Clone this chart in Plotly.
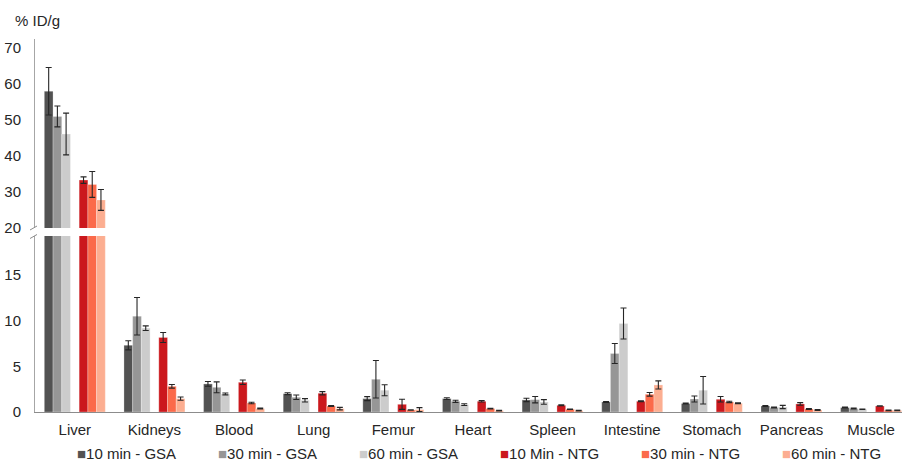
import plotly.graph_objects as go

# ---------------- data ----------------
categories = ["Liver", "Kidneys", "Blood", "Lung", "Femur", "Heart",
              "Spleen", "Intestine", "Stomach", "Pancreas", "Muscle"]

series_names = ["10 min - GSA", "30 min - GSA", "60 min - GSA",
                "10 Min - NTG", "30 min - NTG", "60 min - NTG"]

gsa10 = [58.0, 7.3, 3.07, 2.0, 1.46, 1.46, 1.32, 1.1, 0.92, 0.66, 0.48]
gsa10_err = [6.6, 0.5, 0.26, 0.1, 0.22, 0.1, 0.18, 0.05, 0.05, 0.05, 0.05]
gsa30 = [51.0, 10.48, 2.7, 1.61, 3.58, 1.17, 1.35, 6.4, 1.42, 0.48, 0.37]
gsa30_err = [2.9, 2.05, 0.6, 0.25, 2.05, 0.12, 0.35, 1.1, 0.33, 0.05, 0.05]
gsa60 = [46.1, 9.17, 1.97, 1.28, 2.38, 0.81, 1.1, 9.68, 2.38, 0.55, 0.3]
gsa60_err = [5.8, 0.25, 0.1, 0.18, 0.6, 0.1, 0.25, 1.7, 1.5, 0.18, 0.03]
ntg10 = [33.3, 8.15, 3.25, 2.05, 0.84, 1.17, 0.73, 1.17, 1.39, 0.88, 0.66]
ntg10_err = [0.9, 0.55, 0.25, 0.18, 0.55, 0.08, 0.05, 0.05, 0.3, 0.14, 0.03]
ntg30 = [32.1, 2.81, 0.99, 0.66, 0.22, 0.37, 0.3, 1.94, 1.1, 0.33, 0.18]
ntg30_err = [3.6, 0.2, 0.08, 0.05, 0.03, 0.03, 0.03, 0.2, 0.08, 0.05, 0.03]
ntg60 = [27.8, 1.46, 0.37, 0.37, 0.26, 0.15, 0.15, 2.96, 0.95, 0.22, 0.18]
ntg60_err = [2.9, 0.18, 0.05, 0.14, 0.22, 0.03, 0.03, 0.44, 0.05, 0.05, 0.03]

lower_ticks = [0, 5, 10, 15]
upper_ticks = [20, 30, 40, 50, 60, 70]

# ---------------- style ----------------
colors = ["#525252", "#969696", "#cccccc", "#cb181d", "#fb6a4a", "#fcae91"]
slots = [0, 1, 2, 4, 5, 6]          # slot 3 is the gap between GSA and NTG
W = 0.1094                          # bar width in category units
values = [gsa10, gsa30, gsa60, ntg10, ntg30, ntg60]
errors = [gsa10_err, gsa30_err, gsa60_err, ntg10_err, ntg30_err, ntg60_err]

FONT = "Liberation Sans, Arial, sans-serif"
TXT = "#262626"

fig = go.Figure()
for ya in ["y", "y2"]:
    for name, vals, errs, col, s in zip(series_names, values, errors, colors, slots):
        fig.add_trace(go.Bar(
            x=categories, y=vals, name=name, showlegend=False,
            xaxis="x", yaxis=ya,
            width=W, offset=-3.5 * W + s * W,
            marker=dict(color=col, line=dict(width=0.6, color="rgba(255,255,255,0.45)")),
            error_y=dict(type="data", array=errs, visible=True,
                         color="#262626", thickness=1.1, width=3),
        ))

# plot area geometry (pixels)
L, R, T, B = 35, 0, 39, 49
H = 461
plot_h = H - T - B
def py(ypix):
    return (H - B - ypix) / plot_h
def px(xpix):
    return (xpix - L) / (902 - L - R)

fig.update_layout(
    width=902, height=461,
    margin=dict(l=L, r=R, t=T, b=B),
    paper_bgcolor="white", plot_bgcolor="white",
    barmode="overlay",
    font=dict(family=FONT, size=15, color=TXT),
    xaxis=dict(type="category", range=[-0.5, 10.388], anchor="y",
               showline=True, linecolor="#8c8c8c", linewidth=1.3,
               showgrid=False, zeroline=False, ticks="outside", ticklen=4,
               tickcolor="rgba(0,0,0,0)", tickfont=dict(size=15, color=TXT)),
    yaxis=dict(domain=[0, py(236)], range=[0, 19.25], tickvals=lower_ticks,
               showline=True, linecolor="#a6a6a6", linewidth=1,
               showgrid=False, zeroline=False, ticks="outside", ticklen=10,
               tickcolor="rgba(0,0,0,0)", tickfont=dict(size=15, color=TXT)),
    yaxis2=dict(domain=[py(228), 1], range=[20, 72.5], tickvals=upper_ticks,
                anchor="x",
                showline=True, linecolor="#a6a6a6", linewidth=1,
                showgrid=False, zeroline=False, ticks="outside", ticklen=10,
                tickcolor="rgba(0,0,0,0)", tickfont=dict(size=15, color=TXT)),
)

# axis break marks
for y0, y1 in [(230, 226), (238.5, 234.5)]:
    fig.add_shape(type="line", xref="paper", yref="paper",
                  x0=px(30), x1=px(37), y0=py(y0), y1=py(y1),
                  line=dict(color="#8c8c8c", width=1))

# y-axis title
fig.add_annotation(text="% ID/g", xref="paper", yref="paper",
                   x=px(13), y=py(21), xanchor="left", yanchor="middle",
                   showarrow=False, font=dict(size=15, color=TXT))

# legend
for i, (name, col) in enumerate(zip(series_names, colors)):
    fig.add_annotation(
        text=f"<span style='color:{col}'>■</span>{name}",
        xref="paper", yref="paper", x=px(75 + i * 141), y=py(453),
        xanchor="left", yanchor="middle", showarrow=False,
        font=dict(size=15, color=TXT))

fig.write_html("out.html",
               config={"displayModeBar": False},
               post_script="document.body.style.margin='0px';document.body.style.overflow='hidden';")
